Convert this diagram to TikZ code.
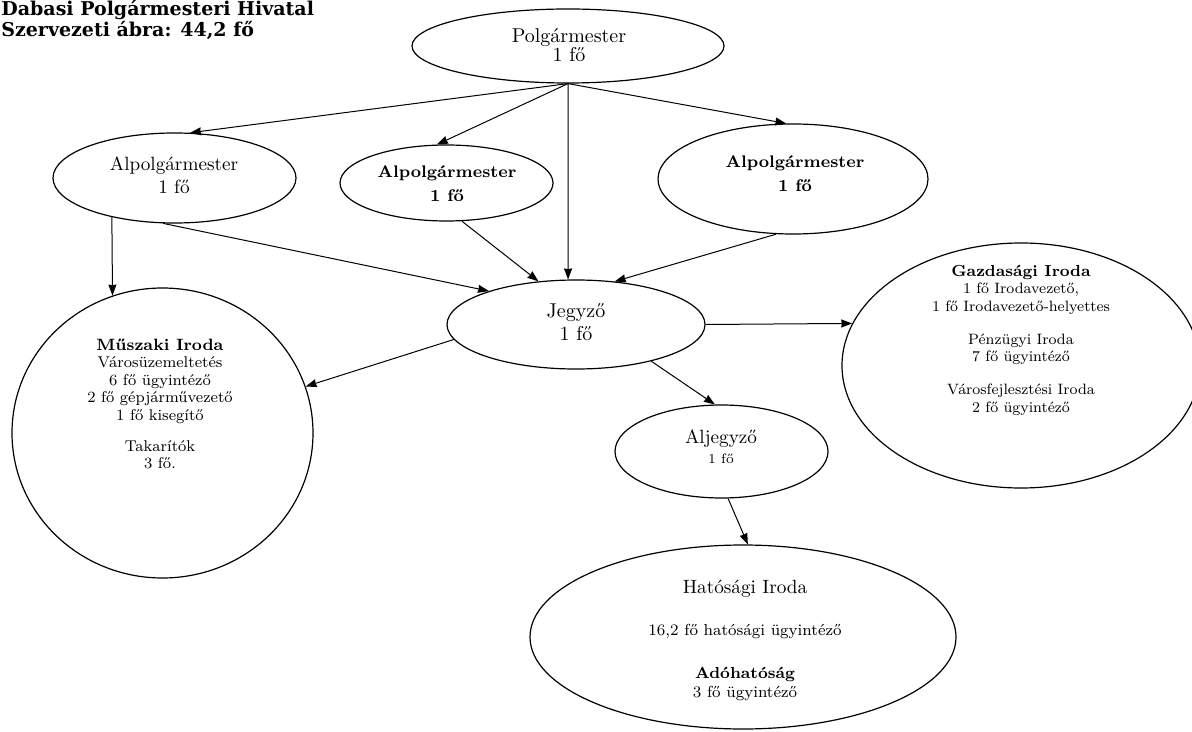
\documentclass[tikz,border=0pt]{standalone}
\usepackage{fontspec}
\newfontfamily\titlefont{DejaVu Serif}
\usetikzlibrary{shapes.geometric,arrows.meta}
\begin{document}
\begin{tikzpicture}[x=0.5pt,y=-0.5pt,
  el/.style={draw, ellipse, inner sep=0pt, line width=0.6pt},
  conn/.style={-{Stealth[length=5.5pt,width=4pt,inset=0.3pt]}, line width=0.5pt},
  txt/.style={align=center, inner sep=0pt},
  ttl/.style={anchor=base west, inner sep=0pt, font=\titlefont\bfseries\fontsize{9.5}{11}\selectfont}
]
\useasboundingbox (0,0) rectangle (1192,732);

% title
\node[ttl] (title1) at (1,16) {Dabasi Polgármesteri Hivatal};
\node[ttl] (title2) at (1,37) {Szervezeti ábra: 44,2 fő};

% ellipses
\node[el, minimum width=156pt, minimum height=37pt] (polg) at (568,46) {};
\node[el, minimum width=121.5pt, minimum height=45pt] (alp1) at (174.5,178) {};
\node[el, minimum width=106.5pt, minimum height=38pt] (alp2) at (446.5,183) {};
\node[el, minimum width=135pt, minimum height=55pt] (alp3) at (793,179) {};
\node[el, minimum width=129pt, minimum height=44.5pt] (jeg) at (576,324.5) {};
\node[el, minimum width=150.5pt, minimum height=145pt] (musz) at (162.5,433) {};
\node[el, minimum width=179pt, minimum height=122.5pt] (gaz) at (1021,365.5) {};
\node[el, minimum width=106.5pt, minimum height=46.5pt] (alj) at (721.5,451.5) {};
\node[el, minimum width=213pt, minimum height=92pt] (hat) at (743,637) {};

% texts
\node[txt, font=\fontsize{10}{9.5}\selectfont] (polgt) at (569,45) {Polgármester\\1 fő};
\node[txt, font=\fontsize{9.6}{11.5}\selectfont] (alp1t) at (174,175) {Alpolgármester\\1 fő};
\node[txt, font=\bfseries\fontsize{8.4}{12}\selectfont] (alp2t) at (447,184) {Alpolgármester\\1 fő};
\node[txt, font=\bfseries\fontsize{8.4}{12}\selectfont] (alp3t) at (795,174) {Alpolgármester\\1 fő};
\node[txt, font=\fontsize{10}{11.5}\selectfont] (jegt) at (576,322) {Jegyző\\1 fő};
\node[txt, font=\fontsize{9.6}{10}\selectfont] (aljt) at (721,447) {Aljegyző\\{\fontsize{6.8}{10}\selectfont 1 fő}};
\node[txt, font=\fontsize{7.8}{8.7}\selectfont] (muszt) at (160,404)
  {{\bfseries\fontsize{8.2}{8.7}\selectfont Műszaki Iroda}\\Városüzemeltetés\\6 fő ügyintéző\\2 fő gépjárművezető\\1 fő kisegítő\\[7pt]Takarítók\\3 fő.};
\node[txt, font=\fontsize{7.5}{8.75}\selectfont] (gazt) at (1021,340)
  {{\bfseries\fontsize{8}{8.75}\selectfont Gazdasági Iroda}\\1 fő Irodavezető,\\1 fő Irodavezető-helyettes\\[7.75pt]Pénzügyi Iroda\\7 fő ügyintéző\\[7.75pt]Városfejlesztési Iroda\\2 fő ügyintéző};
\node[txt, font=\fontsize{8}{9.5}\selectfont] (hatt) at (745,640)
  {{\fontsize{9.6}{9.5}\selectfont Hatósági Iroda}\\[11.5pt]16,2 fő hatósági ügyintéző\\[12pt]{\bfseries Adóhatóság}\\3 fő ügyintéző};

% connectors
\draw[conn] (polg.south) -- (alp1.71);
\draw[conn] (polg.south) -- (alp2.104);
\draw[conn] (polg.south) -- (jeg.100);
\draw[conn] (polg.south) -- (alp3.97);
\draw[conn] (alp1.212) -- (musz.110);
\draw[conn] (alp1.256) -- (jeg.159);
\draw[conn] (alp2.292) -- (jeg.131);
\draw[conn] (alp3.253) -- (jeg.48);
\draw[conn] (jeg.187) -- (musz.18);
\draw[conn] (jeg.east) -- (gaz.166);
\draw[conn] (jeg.334) -- (alj.98);
\draw[conn] (alj.278) -- (hat.87);
\end{tikzpicture}
\end{document}
